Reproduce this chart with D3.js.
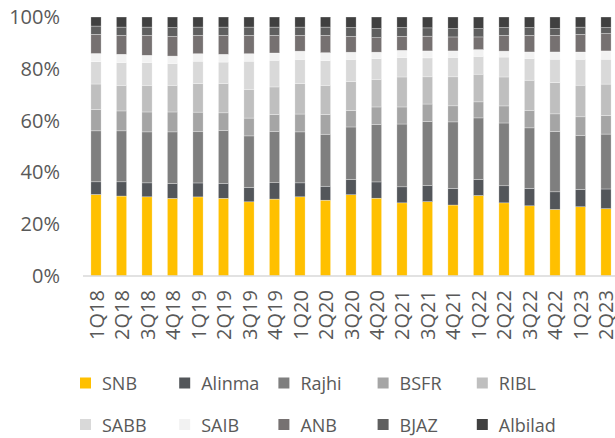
<!DOCTYPE html>
<html><head><meta charset="utf-8">
<script src="https://cdn.jsdelivr.net/npm/d3@7"></script>
<style>html,body{margin:0;padding:0;background:#fff;} svg{display:block;}</style>
</head><body>
<svg id="chart" width="615" height="438"></svg>
<script>
const categories = ["1Q18","2Q18","3Q18","4Q18","1Q19","2Q19","3Q19","4Q19","1Q20","2Q20","3Q20","4Q20","2Q21","3Q21","4Q21","1Q22","2Q22","3Q22","4Q22","1Q23","2Q23"];
const seriesNames = ["SNB","Alinma","Rajhi","BSFR","RIBL","SABB","SAIB","ANB","BJAZ","Albilad"];
const SNB     = [31.5,30.9,30.6,30.0,30.6,30.0,28.7,29.7,30.6,29.3,31.4,30.1,28.3,28.7,27.4,31.1,28.3,27.1,25.7,26.7,26.0];
const Alinma  = [4.9,5.5,5.4,5.8,5.4,5.8,5.6,6.3,5.4,5.4,5.9,6.3,6.2,6.2,6.4,6.2,6.6,6.7,6.8,6.7,7.6];
const Rajhi   = [19.7,19.7,19.7,19.9,19.8,20.3,19.9,19.7,19.7,20.1,20.3,22.3,24.3,24.7,25.7,23.8,24.3,23.4,23.3,20.7,21.2];
const BSFR    = [8.3,7.7,7.7,7.7,7.6,6.9,6.9,6.7,6.9,7.6,6.4,6.7,6.6,6.8,6.2,6.2,6.6,6.8,6.8,7.3,7.2];
const RIBL    = [9.8,9.9,10.3,10.3,11.0,11.3,11.1,10.6,11.7,11.3,11.2,10.7,11.6,10.5,11.2,10.7,11.2,11.6,12.1,12.2,12.1];
const SABB    = [8.6,8.8,8.8,8.4,8.7,8.3,10.9,10.3,9.4,9.6,8.5,8.0,7.5,7.3,7.5,6.9,7.7,8.4,9.0,10.0,9.6];
const SAIB    = [3.2,3.2,2.8,2.9,2.9,3.0,2.9,2.8,3.2,3.0,2.8,2.5,2.8,2.7,2.5,2.6,2.3,2.5,2.8,2.8,3.2];
const ANB     = [7.4,7.3,7.7,7.6,7.1,7.3,7.1,6.8,6.1,6.7,6.1,5.6,5.4,5.7,5.4,4.9,6.1,6.4,6.4,6.8,6.7];
const BJAZ    = [3.2,3.2,3.2,3.4,3.2,3.2,3.2,3.2,3.2,3.2,3.4,3.5,3.4,3.2,3.2,3.2,3.0,3.0,2.6,2.8,2.3];
const Albilad = [3.5,3.9,3.9,4.1,3.9,3.9,3.9,3.9,3.9,3.9,4.1,4.5,4.1,4.2,4.5,4.5,4.1,4.1,4.5,3.9,4.1];
const colors  = ["#ffc000","#53565a","#7f7f7f","#a5a5a5","#bfbfbf","#d9d9d9","#f2f2f2","#767171","#5f5f5f","#404040"];
const yTicks  = [0,0.2,0.4,0.6,0.8,1.0];

const seriesValues = [SNB,Alinma,Rajhi,BSFR,RIBL,SABB,SAIB,ANB,BJAZ,Albilad];
const table = categories.map((c,i)=>{const o={cat:c}; seriesNames.forEach((s,j)=>o[s]=seriesValues[j][i]); return o;});

const svg = d3.select("#chart");
const font = "'Open Sans', 'Liberation Sans', sans-serif";
const textColor = "#595959";

const x = d3.scaleBand().domain(categories).range([83,619]).paddingInner(0.6).paddingOuter(0.31);
const y = d3.scaleLinear().domain([0,1]).range([276,17]);
const color = d3.scaleOrdinal().domain(seriesNames).range(colors);

const stack = d3.stack().keys(seriesNames).offset(d3.stackOffsetExpand);
const stacked = stack(table);

svg.append("g").selectAll("g").data(stacked).join("g")
  .attr("fill", d=>color(d.key))
  .selectAll("rect").data(d=>d).join("rect")
  .attr("x", d=>x(d.data.cat))
  .attr("width", x.bandwidth())
  .attr("y", d=>y(d[1]))
  .attr("height", d=>y(d[0])-y(d[1]))
  .attr("stroke","#ffffff").attr("stroke-width",0.5).attr("stroke-opacity",0.6);

// baseline
svg.append("line").attr("x1",83).attr("x2",615).attr("y1",y(0)).attr("y2",y(0))
  .attr("stroke","#d9d9d9").attr("stroke-width",1.5);

// y labels
const yAxis = d3.axisLeft(y).tickValues(yTicks).tickFormat(d3.format(".0%")).tickSize(0).tickPadding(0);
const gy = svg.append("g").attr("transform","translate(60,0)").call(yAxis);
gy.select(".domain").remove();
gy.selectAll("text").attr("font-family",font).attr("font-size",20).attr("fill",textColor);

// x labels
const xAxis = d3.axisBottom(x).tickSize(0).tickPadding(0);
const gx = svg.append("g").attr("transform","translate(0,290)").call(xAxis);
gx.select(".domain").remove();
gx.selectAll("text")
  .attr("font-family",font).attr("font-size",20).attr("fill",textColor)
  .attr("text-anchor","end").attr("dy",null).attr("y",0)
  .attr("transform","rotate(-90)").attr("dx",0).attr("x",0)
  .attr("dominant-baseline","central");

// legend
const legend = svg.append("g");
seriesNames.forEach((s,i)=>{
  const col = i%5, row = Math.floor(i/5);
  const lx = 80 + col*99.2, ly = 383 + row*41.5;
  const g = legend.append("g").attr("transform",`translate(${lx},${ly})`);
  g.append("rect").attr("x",0).attr("y",-5.5).attr("width",11).attr("height",11).attr("fill",color(s));
  g.append("text").attr("x",22).attr("y",0).attr("dominant-baseline","central")
    .attr("font-family",font).attr("font-size",18).attr("fill",textColor).text(s);
});
</script>
</body></html>
